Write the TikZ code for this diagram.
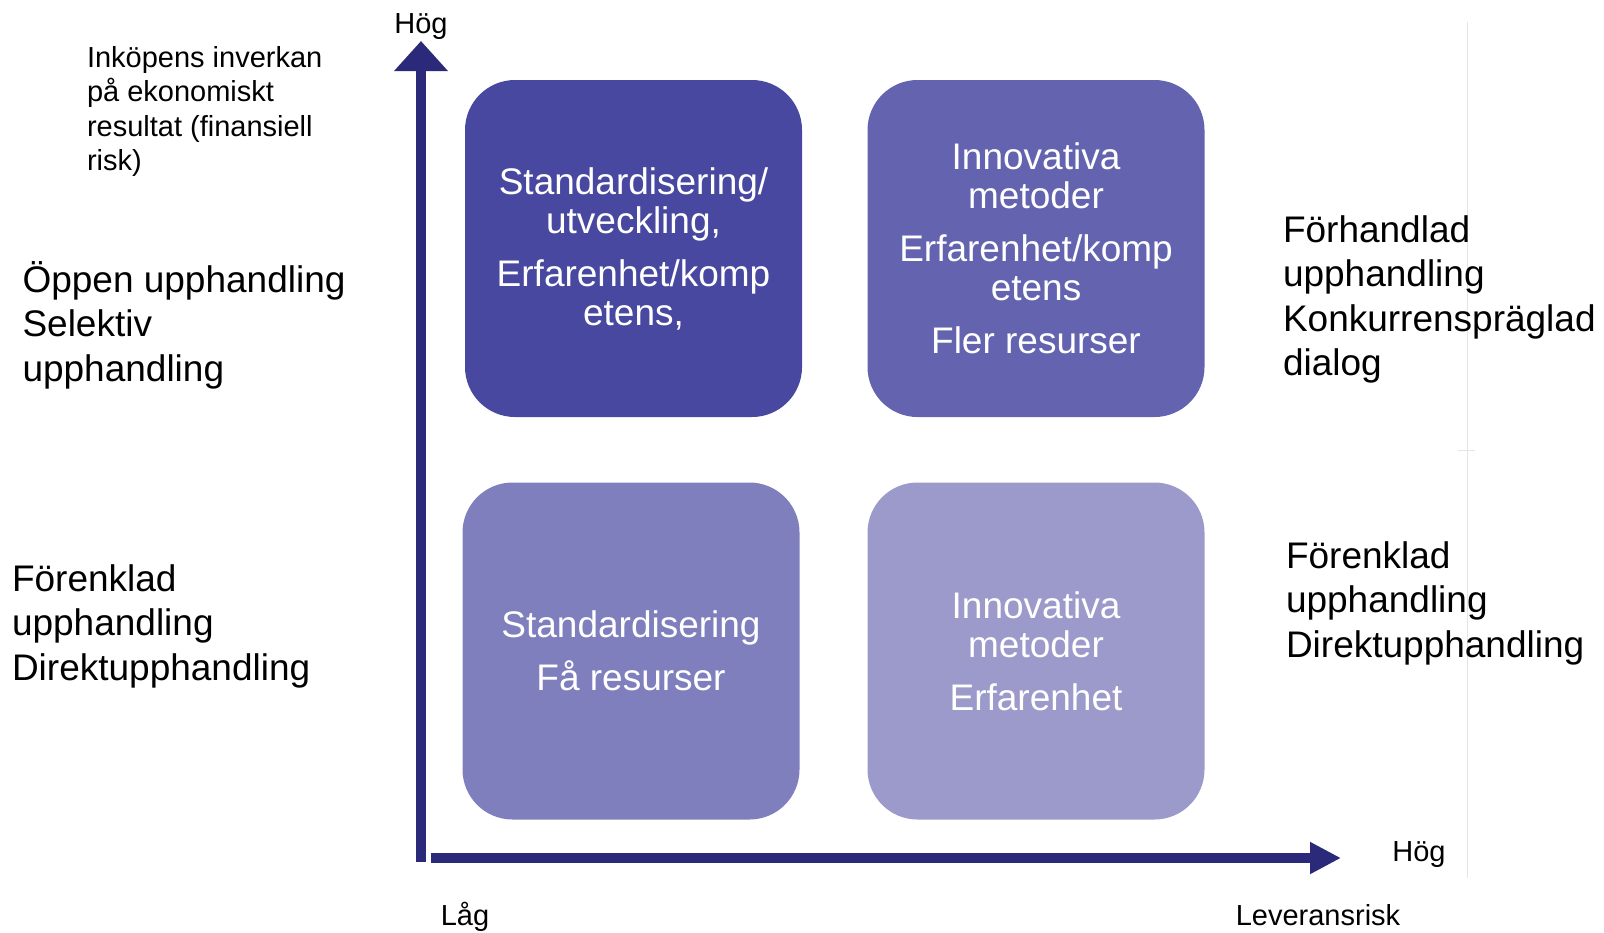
\documentclass[tikz,border=0pt]{standalone}
\usepackage{fontspec}
\setmainfont{Liberation Sans}
\usetikzlibrary{arrows.meta}

\definecolor{axisblue}{RGB}{43,42,122}
\definecolor{quadA}{RGB}{72,72,160}
\definecolor{quadB}{RGB}{100,99,176}
\definecolor{quadC}{RGB}{128,127,190}
\definecolor{quadD}{RGB}{155,154,203}

\begin{document}
\begin{tikzpicture}[x=0.5pt, y=-0.5pt,
        every node/.style={inner sep=0pt, outer sep=0pt},
        quad/.style={rounded corners=25pt, minimum width=168.5pt, minimum height=168.5pt,
          text=white, align=center, font={\fontsize{18.5}{19.5}\selectfont}},
        big/.style={anchor=base west, align=left, font={\fontsize{18.5}{22.25}\selectfont}},
        small/.style={font={\fontsize{14.5}{17.25}\selectfont}},
        axis/.style={draw=axisblue, line width=5pt}]

      \useasboundingbox (0,0) rectangle (1604,932);

      % Quadrants
      \node[quad, fill=quadA] (q1) at (633.5,248.5) {Standardisering/\\utveckling,\\[7pt]Erfarenhet/komp\\etens,};
      \node[quad, fill=quadB] (q2) at (1036,248.5) {Innovativa\\metoder\\[7pt]Erfarenhet/komp\\etens\\[7pt]Fler resurser};
      \node[quad, fill=quadC] (q3) at (631,651) {Standardisering\\[7pt]Få resurser};
      \node[quad, fill=quadD] (q4) at (1036,651) {Innovativa\\metoder\\[7pt]Erfarenhet};

      % Axes
      \coordinate (origin) at (421,862);
      \coordinate (ytip) at (421,41);
      \coordinate (xstart) at (431,858);
      \coordinate (xtip) at (1341,858);
      \draw[axis, -{Triangle[width=26pt, length=15pt]}] (origin) -- (ytip);
      \draw[axis, -{Triangle[width=15pt, length=15.5pt]}] (xstart) -- (xtip);

      % thin guide on the right
      \draw[black!10, line width=0.5pt] (1467,22) -- (1467,878);
      \draw[black!10, line width=0.5pt] (1458,450) -- (1475,450);

      % Axis labels
      \node[small, anchor=base] (yhigh) at (421,33) {Hög};
      \node[small, anchor=base] (xhigh) at (1419,861) {Hög};
      \node[small, anchor=base] (low) at (465,925) {Låg};
      \node[small, anchor=base] (risk) at (1318,925) {Leveransrisk};
      % (base of a multi-line node = its last line)
      \node[small, anchor=base west, align=left] (impact) at (87,170.5) {Inköpens inverkan\\på ekonomiskt\\resultat (finansiell\\risk)};

      % Procedures
      \node[big] (open) at (22.5,381) {Öppen upphandling\\Selektiv\\upphandling};
      \node[big] (simpleL) at (12,680) {Förenklad\\upphandling\\Direktupphandling};
      \node[big] (negot) at (1283,375.5) {Förhandlad\\upphandling\\Konkurrenspräglad\\dialog};
      \node[big] (simpleR) at (1286,657) {Förenklad\\upphandling\\Direktupphandling};
    \end{tikzpicture}
\end{document}
